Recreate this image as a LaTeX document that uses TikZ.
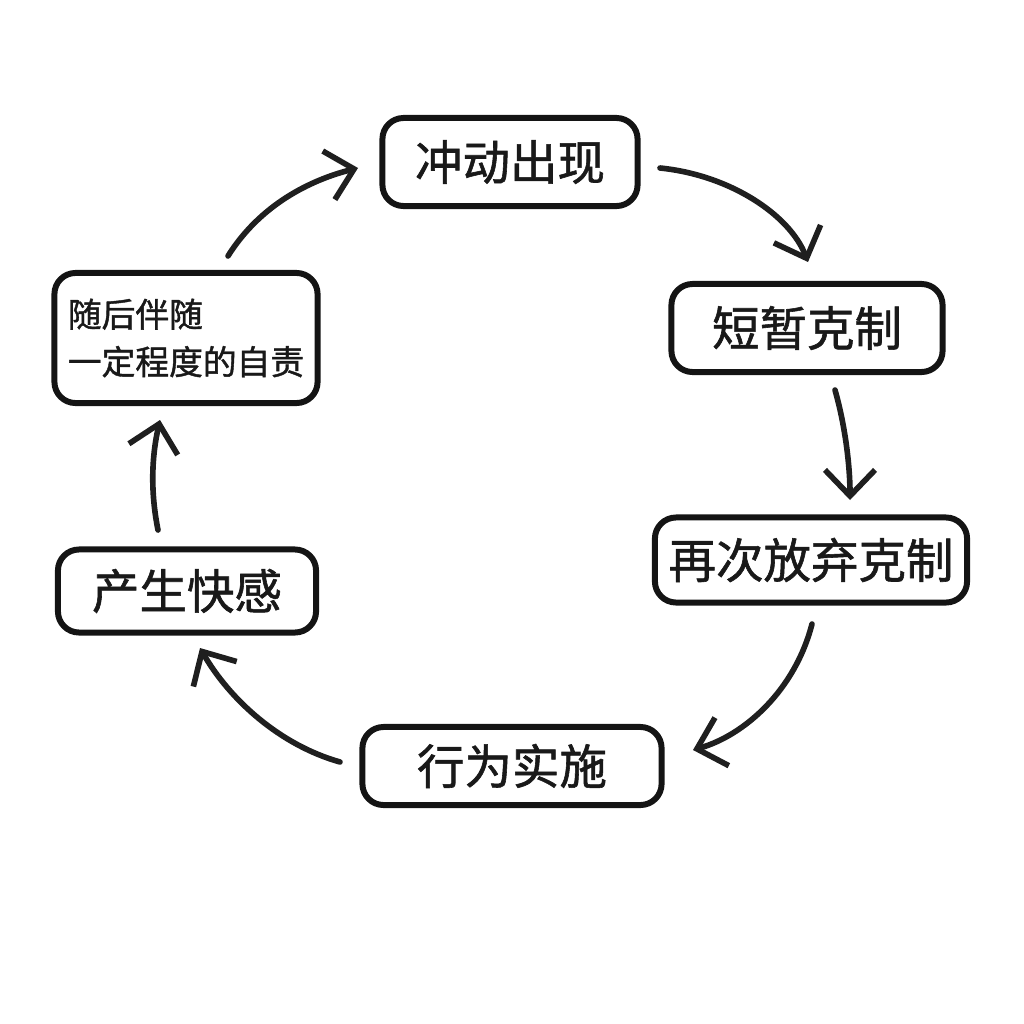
\documentclass[tikz,border=0pt]{standalone}
\usepackage{fontspec}
\setmainfont{Noto Sans CJK SC}
\newfontfamily\medcjk{Noto Sans CJK SC}[FakeBold=1.2]
\usetikzlibrary{arrows.meta}
\begin{document}
\begin{tikzpicture}[x=0.01cm,y=-0.01cm,
  stepbox/.style={draw=black!92, line width=1.7pt, rounded corners=6pt, fill=white,
    font=\fontsize{13.5}{17}\selectfont\medcjk, inner sep=0pt, align=center, text=black!90},
  flow/.style={draw=black!88, line width=1.6pt, line cap=round,
    -{Straight Barb[length=2.6mm,width=5mm,line width=1.6pt]}}]
\useasboundingbox (0,0) rectangle (1024,1024);
\node[stepbox, minimum width=2.55cm, minimum height=0.88cm] (a) at (510,162) {冲动出现};
\node[stepbox, minimum width=2.71cm, minimum height=0.88cm] (b) at (807,328) {短暂克制};
\node[stepbox, minimum width=3.12cm, minimum height=0.85cm] (c) at (811,560) {再次放弃克制};
\node[stepbox, minimum width=2.99cm, minimum height=0.78cm] (d) at (512,766) {行为实施};
\node[stepbox, minimum width=2.58cm, minimum height=0.83cm] (e) at (187,591) {产生快感};
\node[stepbox, minimum width=2.63cm, minimum height=1.30cm, align=left,
  font=\fontsize{9.6}{13.5}\selectfont\medcjk] (f) at (186,338) {随后伴随\\一定程度的自责};
\coordinate (a1) at (660,168); \coordinate (a2) at (808,262);
\coordinate (b1) at (835,390); \coordinate (b2) at (850,500);
\coordinate (c1) at (812,624); \coordinate (c2) at (693,750);
\coordinate (d1) at (340,762); \coordinate (d2) at (200,648);
\coordinate (e1) at (158,530); \coordinate (e2) at (160,420);
\coordinate (f1) at (228,256); \coordinate (f2) at (358,168);
\draw[flow] (a1) .. controls (730,175) and (790,215) .. (a2);
\draw[flow] (b1) .. controls (845,425) and (850,465) .. (b2);
\draw[flow] (c1) .. controls (795,690) and (745,735) .. (c2);
\draw[flow] (d1) .. controls (280,745) and (230,700) .. (d2);
\draw[flow] (e1) .. controls (150,490) and (152,455) .. (e2);
\draw[flow] (f1) .. controls (260,205) and (310,180) .. (f2);
\end{tikzpicture}
\end{document}
